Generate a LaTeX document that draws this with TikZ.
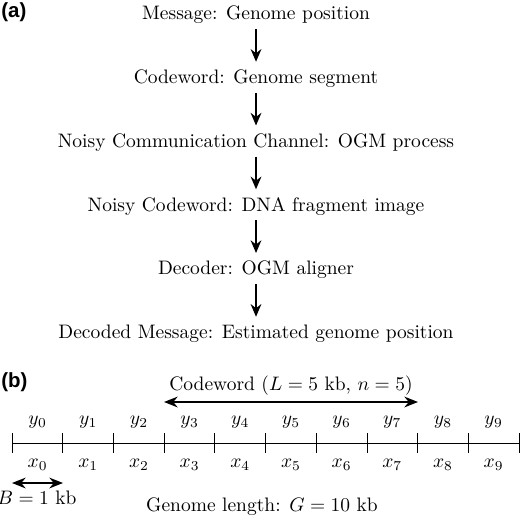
\documentclass[tikz,border=0pt]{standalone}
\usepackage{amsmath}
\usepackage{fontspec}
\usepackage{tikz}
\usetikzlibrary{arrows.meta}
\usetikzlibrary{positioning}
\usetikzlibrary{calc}
\newfontfamily\panelfont{Liberation Sans}
\tikzstyle{stagestyle}=[inner sep=1pt, anchor=center, text height=7pt, text depth=2pt]
\tikzstyle{flowstyle}=[draw, line width=1pt, -{Stealth[length=6.5pt,width=5.5pt]}, shorten <=1.5pt, shorten >=3pt]
\tikzstyle{spanstyle}=[draw, line width=1pt, {Stealth[length=7pt,width=5.5pt]}-{Stealth[length=7pt,width=5.5pt]}]
\tikzstyle{axisstyle}=[draw, line width=0.5pt]
\tikzstyle{panellabel}=[font=\panelfont\bfseries\fontsize{10.5}{12}\selectfont, inner sep=0pt, anchor=west]
\newcommand{\stage}[3]{\node [stagestyle, below=21.3pt of #2] (#1) {#3};}

\begin{document}
\begin{tikzpicture}[x=0.513pt, y=-0.513pt]
\useasboundingbox (0,0) rectangle (520,516);
% (a) channel model
\node [panellabel] (pa) at (1,12) {(a)};
\node [stagestyle] (msg) at (256,15) {Message: Genome position};
\stage{cw}{msg}{Codeword: Genome segment}
\stage{chan}{cw}{Noisy Communication Channel: OGM process}
\stage{ncw}{chan}{Noisy Codeword: DNA fragment image}
\stage{dec}{ncw}{Decoder: OGM aligner}
\stage{out}{dec}{Decoded Message: Estimated genome position}
\draw [flowstyle] (msg.south) -- (cw.north);
\draw [flowstyle] (cw.south) -- (chan.north);
\draw [flowstyle] (chan.south) -- (ncw.north);
\draw [flowstyle] (ncw.south) -- (dec.north);
\draw [flowstyle] (dec.south) -- (out.north);
% (b) genome blocks
\node [panellabel] (pb) at (1,382) {(b)};
\foreach \i in {0,...,10}
  \coordinate (t\i) at ({12.3+50.67*\i},443);
\draw [axisstyle] (t0) -- (t10);
\foreach \i in {0,...,10}
  \draw [axisstyle] (t\i) ++(0,-10) -- ++(0,20);
\foreach \i in {0,...,9} {
  \node (y\i) at ({37.6+50.67*\i},422) {$y_{\i}$};
  \node (x\i) at ({37.6+50.67*\i},465) {$x_{\i}$};
}
\coordinate (cwl) at (164,402);
\coordinate (cwr) at (418,402);
\draw [spanstyle] (cwl) -- (cwr);
\node [above=0pt] (cwlabel) at ($(cwl)!0.5!(cwr)$) {Codeword ($L=5$ kb, $n=5$)};
\coordinate (bl) at (12,483);
\coordinate (br) at (63,483);
\draw [spanstyle] (bl) -- (br);
\node (blabel) at (37,498) {$B=1$ kb};
\node (glabel) at (262,507) {Genome length: $G=10$ kb};
\end{tikzpicture}
\end{document}
